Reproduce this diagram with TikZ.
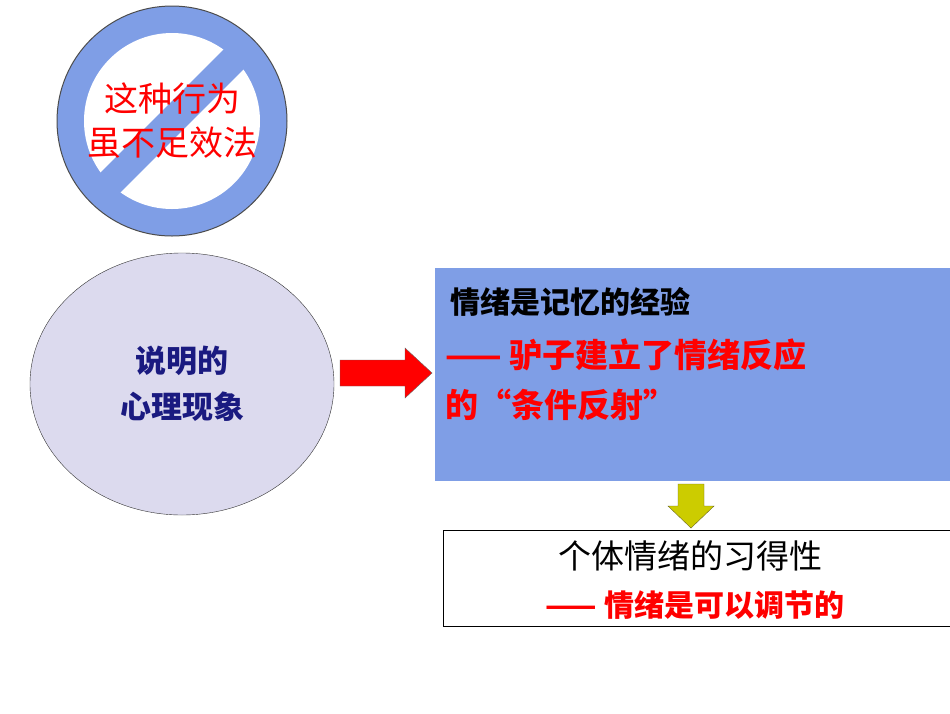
\documentclass[tikz,border=0pt]{standalone}
\usepackage{fontspec}
\newfontfamily\cjk{Noto Sans CJK SC}
\usetikzlibrary{shapes.geometric}
\definecolor{sblue}{HTML}{7F9EE6}
\definecolor{lav}{HTML}{DCDAEE}
\definecolor{navy}{HTML}{1A1A80}
\definecolor{yel}{HTML}{CCCC00}
\tikzset{txt/.style={font=\cjk, inner sep=0pt}}
\begin{document}
\begin{tikzpicture}[x=1pt,y=-1pt]
\useasboundingbox[fill=white] (0,0) rectangle (950,713);
% prohibition sign
\node[circle,draw=black!70,line width=1pt,fill=sblue,minimum size=230pt] (sign) at (172,121) {};
\node[circle,fill=white,minimum size=176pt] (inner) at (172,121) {};
\fill[sblue,rotate around={45:(172,121)}] (60,107) rectangle (284,135);
\node[txt,text=red,align=center,font=\cjk\fontsize{34}{44}\selectfont] (t1) at (172,121) {这种行为\\虽不足效法};
% ellipse
\node[ellipse,draw=black!80,fill=lav,minimum width=304pt,minimum height=262pt] (ell) at (182,384) {};
\node[txt,text=navy,align=center,font=\cjk\bfseries\fontsize{31}{46}\selectfont] (t2) at (182,384) {说明的\\心理现象};
% red arrow
\coordinate (ra) at (340,373);
\draw[black!60,fill=red] (ra) ++(0,-13) -- ++(65,0) -- ++(0,-12) -- ++(27,25) -- ++(-27,25) -- ++(0,-12) -- ++(-65,0) -- cycle;
% blue box
\node[fill=sblue,minimum width=515pt,minimum height=213pt,anchor=north west,inner sep=0pt] (bb) at (435,268) {};
\node[txt,anchor=west,font=\cjk\bfseries\fontsize{30}{34}\selectfont] (b1) at (450,302) {情绪是记忆的经验};
\node[txt,anchor=west,text=red,font=\cjk\bfseries\fontsize{33}{36}\selectfont] (b2) at (445,355) {—— 驴子建立了情绪反应};
\node[txt,anchor=west,text=red,font=\cjk\bfseries\fontsize{33}{36}\selectfont] (b3) at (445,405) {的“条件反射”};
% yellow arrow
\coordinate (ya) at (691,484);
\draw[olive!70!black,fill=yel] (ya) ++(-13,0) -- ++(26,0) -- ++(0,22) -- ++(10,0) -- ++(-23,22) -- ++(-23,-22) -- ++(10,0) -- cycle;
% white box
\node[draw=black,minimum width=507pt,minimum height=96pt,anchor=north west,inner sep=0pt] (wb) at (443,530) {};
\node[txt,font=\cjk\fontsize{33}{36}\selectfont] (w1) at (690,556) {个体情绪的习得性};
\node[txt,text=red,font=\cjk\bfseries\fontsize{30}{34}\selectfont] (w2) at (695,605) {—— 情绪是可以调节的};
\end{tikzpicture}
\end{document}
